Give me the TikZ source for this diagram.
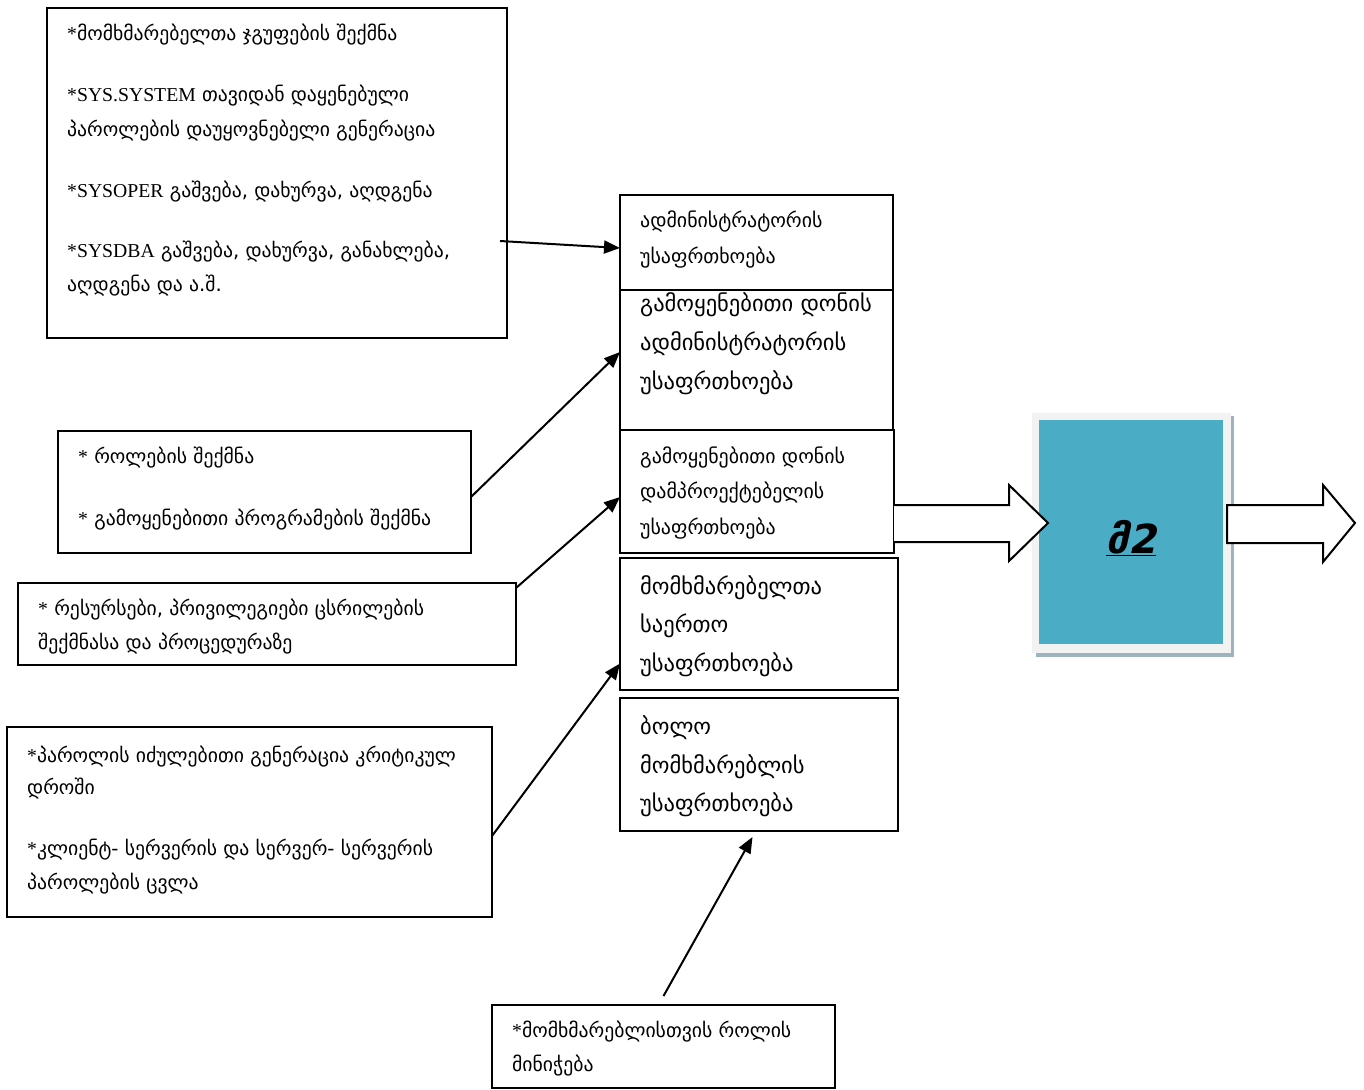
\documentclass[tikz,border=0pt]{standalone}
\usepackage{fontspec}
\setmainfont{DejaVu Sans}
\newfontfamily\serifpart{Liberation Serif}
\newfontfamily\bigfont{DejaVu Sans Bold}[FakeSlant=0.22]
\usetikzlibrary{arrows.meta}

\definecolor{tealfill}{HTML}{4BACC6}
\definecolor{framefill}{HTML}{F2F2F2}
\definecolor{shadowfill}{HTML}{9DB3BF}

% serif asterisk / Latin words inside Georgian lines
\newcommand{\st}{{\serifpart *}}
\newcommand{\lat}[1]{{\serifpart #1}}

\begin{document}
\begin{tikzpicture}[x=1pt,y=-1pt,
  box/.style={draw, line width=1.8pt, inner sep=0pt, outer sep=0pt, anchor=north west},
  ln/.style={anchor=base west, inner sep=0pt, font=\fontsize{19.7}{23}\selectfont},
  lnr/.style={anchor=base west, inner sep=0pt, font=\fontsize{19.9}{23}\selectfont},
  lnb/.style={anchor=base west, inner sep=0pt, font=\fontsize{22.5}{26}\selectfont},
  conn/.style={line width=2pt, -{Triangle[length=16pt,width=13pt]}},
  blockarrow/.style={draw, fill=white, line width=2pt, line join=miter}]
\useasboundingbox (0,0) rectangle (1364,1089);

% ---------- left-hand task boxes ----------
\node[box, minimum width=460pt, minimum height=330pt] (a) at (47,8) {};
\node[ln] (a1) at (67,41)  {\st მომხმარებელთა ჯგუფების შექმნა};
\node[ln] (a2) at (67,102) {\lat{*SYS.SYSTEM} თავიდან დაყენებული};
\node[ln] (a3) at (67,136) {პაროლების დაუყოვნებელი გენერაცია};
\node[ln] (a4) at (67,197) {\lat{*SYSOPER} გაშვება, დახურვა, აღდგენა};
\node[ln] (a5) at (67,257) {\lat{*SYSDBA} გაშვება, დახურვა, განახლება,};
\node[ln] (a6) at (67,291) {აღდგენა და ა.შ.};

\node[box, minimum width=413pt, minimum height=122pt] (b) at (58,431) {};
\node[ln] (b1) at (78,463) {\st{} როლების შექმნა};
\node[ln] (b2) at (78,525) {\st{} გამოყენებითი პროგრამების შექმნა};

\node[box, minimum width=498pt, minimum height=82pt] (c) at (18,583) {};
\node[ln] (c1) at (38,615) {\st{} რესურსები, პრივილეგიები ცსრილების};
\node[ln] (c2) at (38,649) {შექმნასა და პროცედურაზე};

\node[box, minimum width=485pt, minimum height=190pt] (d) at (7,727) {};
\node[ln] (d1) at (27,762) {\st პაროლის იძულებითი გენერაცია კრიტიკულ};
\node[ln] (d2) at (27,794) {დროში};
\node[ln] (d3) at (27,855) {\st კლიენტ- სერვერის და სერვერ- სერვერის};
\node[ln] (d4) at (27,889) {პაროლების ცვლა};

\node[box, minimum width=343pt, minimum height=83pt] (e) at (492,1005) {};
\node[ln] (e1) at (512,1037) {\st მომხმარებლისთვის როლის};
\node[ln] (e2) at (512,1071) {მინიჭება};

% ---------- security levels column ----------
\node[box, minimum width=273pt, minimum height=95pt] (r1) at (620,195) {};
\node[lnr] (r1a) at (640,227) {ადმინისტრატორის};
\node[lnr] (r1b) at (640,263) {უსაფრთხოება};

\node[box, minimum width=273pt, minimum height=140pt] (r2) at (620,290) {};
\node[lnb] (r2a) at (640,311) {გამოყენებითი დონის};
\node[lnb] (r2b) at (640,350) {ადმინისტრატორის};
\node[lnb] (r2c) at (640,389) {უსაფრთხოება};

\node[box, minimum width=274pt, minimum height=123pt] (r3) at (620,430) {};
\node[lnr] (r3a) at (640,463) {გამოყენებითი დონის};
\node[lnr] (r3b) at (640,498) {დამპროექტებელის};
\node[lnr] (r3c) at (640,534) {უსაფრთხოება};

\node[box, minimum width=278pt, minimum height=132pt] (r4) at (620,558) {};
\node[lnb] (r4a) at (640,594) {მომხმარებელთა};
\node[lnb] (r4b) at (640,632) {საერთო};
\node[lnb] (r4c) at (640,671) {უსაფრთხოება};

\node[box, minimum width=278pt, minimum height=133pt] (r5) at (620,698) {};
\node[lnb] (r5a) at (640,734) {ბოლო};
\node[lnb] (r5b) at (640,773) {მომხმარებლის};
\node[lnb] (r5c) at (640,811) {უსაფრთხოება};

% ---------- result block ----------
\fill[shadowfill] (1036,416) rectangle (1234,657);
\fill[framefill] (1032,413) rectangle (1231,653);
\node[fill=tealfill, inner sep=0pt, outer sep=0pt, anchor=north west,
      minimum width=184pt, minimum height=224pt] (m) at (1039,420) {};
\node[inner sep=0pt, font=\bigfont\fontsize{40}{44}\selectfont] (mlabel)
      at ([yshift=-6pt]m.center) {\underline{მ2}};

% ---------- connectors ----------
\draw[conn] ([xshift=-7pt,yshift=-68pt]a.east) -- ([yshift=-5.5pt]r1.west);
\draw[conn] ([yshift=-5pt]b.east) -- ([yshift=8pt]r2.west);
\draw[conn] ([yshift=-5pt]c.north east) -- ([yshift=-5.5pt]r3.west);
\draw[conn] ([yshift=-14pt]d.east) -- ([yshift=-39.5pt]r4.west);
\draw[conn] ([yshift=9pt]e.north) -- ([xshift=-6.5pt,yshift=-6pt]r5.south);

% hollow block arrows
\draw[blockarrow] (r3.east |- 0,505) -- (1009,505) -- (1009,485) -- (1048,523)
   -- (1009,561) -- (1009,542) -- (r3.east |- 0,542);
\draw[blockarrow] (1227,505) -- (1323,505) -- (1323,485) -- (1355,523)
   -- (1323,562) -- (1323,543) -- (1227,543) -- cycle;
\end{tikzpicture}
\end{document}
